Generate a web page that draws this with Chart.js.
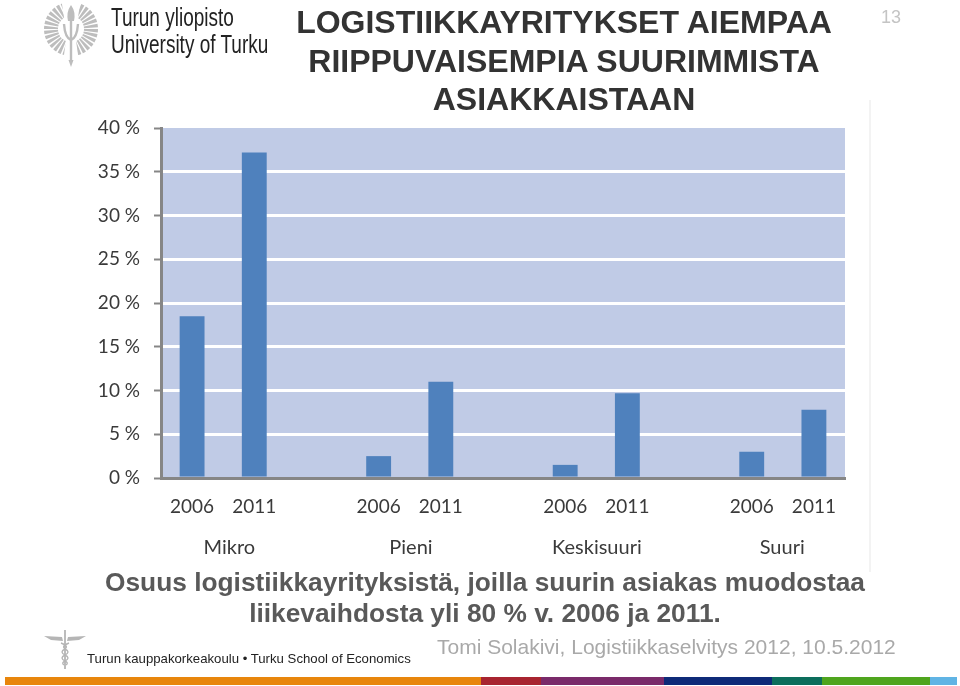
<!DOCTYPE html>
<html>
<head>
<meta charset="utf-8">
<title>Logistiikkayritykset</title>
<script src="https://cdn.jsdelivr.net/npm/chart.js@4/dist/chart.umd.min.js"></script>
<style>
  html, body { margin: 0; padding: 0; background: #fff; }
  #page { position: relative; width: 960px; height: 686px; overflow: hidden; font-family: "Liberation Sans", Arial, sans-serif; }
  #page canvas { position: absolute; left: 0; top: 0; }
  .txt { position: absolute; white-space: nowrap; }
  .center { text-align: center; }
  #otsikko { left: 270px; width: 588px; top: 3px; font-size: 32px; line-height: 38.5px; font-weight: bold; color: #333; }
  #alaotsikko { left: 60px; width: 850px; top: 567px; font-size: 26.3px; line-height: 31px; font-weight: bold; color: #595959; }
  #sivu { left: 881px; top: 7px; font-size: 18px; color: #c4c4c4; }
  #yo { left: 111px; top: 4px; font-size: 25px; line-height: 27px; color: #222; transform: scaleX(0.76); transform-origin: left top; }
  #tse { left: 87px; top: 651px; font-size: 13.2px; color: #222; }
  #lahde { left: 437px; top: 635px; font-size: 21px; color: #a9a9a9; }
  #pystyviiva { position: absolute; left: 869px; top: 100px; width: 2px; height: 472px; background: #f3f3f3; }
  #raita { position: absolute; left: 5px; top: 677px; height: 8px; width: 952px; display: flex; }
  #raita div { height: 100%; }
  svg { position: absolute; }
</style>
</head>
<body>
<div id="page">
  <canvas id="kaavio" width="960" height="686"></canvas>
  <div id="pystyviiva"></div>

  <svg style="left:40px;top:0" width="64" height="70" viewBox="0 0 64 70">
    <circle cx="31" cy="29" r="20" fill="none" stroke="#bdbdbd" stroke-width="14" stroke-dasharray="2.6 1.3"/>
    <path d="M21 -2 L41 -2 L36 30 L26 30 Z M23 62 L39 62 L34 26 L28 26 Z" fill="#fff"/>
    <path d="M31 15 V60 M24 24 Q25 38 31 40 Q37 38 38 24" fill="none" stroke="#bdbdbd" stroke-width="2.4"/>
    <path d="M31 5 Q26 12 28 21 H34 Q36 12 31 5 Z M28.5 60 H33.5 L31 67 Z" fill="#bdbdbd"/>
  </svg>
  <div id="yo" class="txt">Turun yliopisto<br>University of Turku</div>

  <div id="otsikko" class="txt center">LOGISTIIKKAYRITYKSET AIEMPAA<br>RIIPPUVAISEMPIA SUURIMMISTA<br>ASIAKKAISTAAN</div>
  <div id="sivu" class="txt">13</div>
  <div id="alaotsikko" class="txt center">Osuus logistiikkayrityksistä, joilla suurin asiakas muodostaa<br>liikevaihdosta yli 80 % v. 2006 ja 2011.</div>

  <svg style="left:42px;top:628px" width="46" height="44" viewBox="0 0 46 44">
    <path d="M2 8 L20 9 L21 13 L9 12 Z M44 8 L26 9 L25 13 L37 12 Z" fill="#b5b5b5"/>
    <path d="M23 2 V41" stroke="#b5b5b5" stroke-width="1.8"/>
    <path d="M19 15 Q27 18 23 21 Q17 24 23 27 Q29 30 23 33 Q19 35 22 37 M27 15 Q19 18 23 21 Q29 24 23 27 Q17 30 23 33 Q27 35 24 37" fill="none" stroke="#b5b5b5" stroke-width="1.4"/>
  </svg>
  <div id="tse" class="txt">Turun kauppakorkeakoulu • Turku School of Economics</div>
  <div id="lahde" class="txt">Tomi Solakivi, Logistiikkaselvitys 2012, 10.5.2012</div>

  <div id="raita">
    <div style="width:476px;background:#e8860c"></div>
    <div style="width:60px;background:#a82430"></div>
    <div style="width:123px;background:#7a2a6a"></div>
    <div style="width:108px;background:#0e2a78"></div>
    <div style="width:50px;background:#0c6e5c"></div>
    <div style="width:108px;background:#4fa51e"></div>
    <div style="width:27px;background:#60b4e4"></div>
  </div>
</div>

<script>
// vuodet ja arvot luettu kuvasta, tyhjat paikat ovat ryhmien valit
const vuodet = ['2006', '2011', '', '2006', '2011', '', '2006', '2011', '', '2006', '2011'];
const osuudet = [18.5, 37.2, null, 2.5, 11, null, 1.5, 9.7, null, 3, 7.8];
const ryhmat = ['Mikro', 'Pieni', 'Keskisuuri', 'Suuri'];
const ryhmaPaikat = [0.6, 3.52, 6.51, 9.49];
const yTicks = [0, 5, 10, 15, 20, 25, 30, 35, 40];

const akseliFontti = { family: 'Lato, "Open Sans", sans-serif', size: 19 };

// piirtoalueen tausta ja ryhmien nimet x-asteikon mukaan
const taustaPlugin = {
    id: 'tausta',
    beforeDraw(chart) {
        const { ctx, chartArea: a } = chart;
        ctx.save();
        ctx.fillStyle = '#c0cbe6';
        ctx.fillRect(a.left, a.top, a.right - a.left, a.bottom - a.top);
        ctx.restore();
    },
    afterDraw(chart) {
        const { ctx, chartArea: a, scales } = chart;
        ctx.save();
        ctx.fillStyle = '#3a3a3a';
        ctx.font = '20px Lato, "Open Sans", sans-serif';
        ctx.textAlign = 'center';
        ctx.textBaseline = 'middle';
        ryhmat.forEach((nimi, i) => {
            ctx.fillText(nimi, scales.x.getPixelForValue(ryhmaPaikat[i]), a.bottom + 70);
        });
        ctx.restore();
    }
};

new Chart(document.getElementById('kaavio').getContext('2d'), {
    type: 'bar',
    data: {
        labels: vuodet,
        datasets: [{
            data: osuudet,
            backgroundColor: '#4f81bd',
            categoryPercentage: 1,
            barPercentage: 0.4
        }]
    },
    plugins: [taustaPlugin],
    options: {
        responsive: false,
        animation: false,
        layout: { padding: { top: 128, right: 115, bottom: 0, left: 0 } },
        plugins: { legend: { display: false }, tooltip: { enabled: false } },
        scales: {
            y: {
                min: 0,
                max: 40,
                afterBuildTicks: (s) => { s.ticks = yTicks.map(v => ({ value: v })); },
                afterFit: (s) => { s.width = 161; },
                ticks: {
                    padding: 14,
                    color: '#3a3a3a',
                    font: akseliFontti,
                    callback: (v) => v + ' %'
                },
                grid: {
                    color: (c) => (c.tick && (c.tick.value === 40 || c.tick.value === 0)) ? 'rgba(0,0,0,0)' : '#ffffff',
                    lineWidth: 3,
                    tickColor: '#868686',
                    tickWidth: 2,
                    tickLength: 7
                },
                border: { color: '#868686', width: 3 }
            },
            x: {
                position: 'bottom',
                offset: true,
                afterFit: (s) => { s.height = 208; },
                ticks: {
                    autoSkip: false,
                    maxRotation: 0,
                    padding: 9,
                    color: '#3a3a3a',
                    font: akseliFontti
                },
                grid: { display: false },
                border: { color: '#868686', width: 3 }
            }
        }
    }
});
</script>
</body>
</html>
